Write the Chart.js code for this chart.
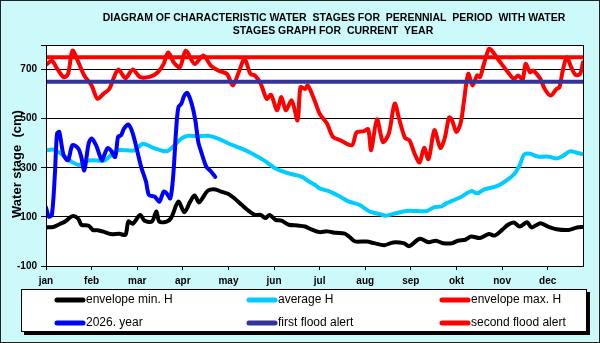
<!DOCTYPE html>
<html>
<head>
<meta charset="utf-8">
<script src="https://cdn.jsdelivr.net/npm/chart.js@4.4.1/dist/chart.umd.min.js"></script>
<style>
  html, body { margin: 0; padding: 0; background: #ccf9fa; }
  canvas { display: block; }
</style>
</head>
<body>
<canvas id="chart" width="600" height="343"></canvas>
<script>
// water stages - perennial envelopes + current year
const months = ['jan','feb','mar','apr','may','jun','jul','aug','sep','okt','nov','dec'];
const yTicks = [-100, 100, 300, 500, 700, 800];

const minDays = [0,5,9,13,18,22,24,29,32,35,39,44,50,54,56,59,64,67,72,75,77,82,85,90,94,98,101,104,107,110,115,119,124,128,133,137,142,146,149,152,156,160,165,171,176,180,186,191,197,203,206,210,218,223,230,236,243,247,254,260,265,270,276,280,285,289,295,301,305,310,314,318,322,327,330,336,341,347,355,361,365];
const minVals = [57,59,70,81,103,92,68,64,46,46,40,30,31,27,81,72,108,84,81,122,81,81,95,162,119,162,187,159,182,207,212,203,193,176,149,128,108,108,95,108,88,85,68,65,61,50,38,41,35,32,20,0,0,-7,-15,-4,-7,-19,11,-3,3,-7,-7,3,7,20,14,30,24,47,68,77,61,78,57,74,61,50,47,57,59];

const avgDays = [0,5,9,14,18,23,27,32,39,43,48,55,60,66,73,82,87,92,97,103,110,117,124,133,140,149,156,165,174,179,183,186,193,200,206,213,220,227,231,238,245,252,259,264,269,272,276,282,289,293,298,305,310,318,322,325,329,334,342,347,351,356,361,365];
const avgVals = [371,374,362,341,322,311,327,331,328,345,371,371,371,398,381,367,390,419,430,428,430,419,399,378,358,327,297,277,263,243,230,216,203,182,162,149,122,111,105,115,124,124,124,140,143,155,165,181,205,196,212,222,236,273,311,354,357,346,345,338,347,367,361,355];

const maxDays = [0,4,7,12,15,18,22,26,31,35,39,43,49,54,59,64,71,76,80,83,87,91,95,101,107,112,117,123,127,131,135,139,142,146,150,153,157,160,163,167,171,173,176,178,183,186,191,195,200,208,211,216,219,221,225,229,233,237,240,244,247,251,254,257,260,264,268,271,274,276,279,282,284,287,290,293,295,297,301,303,308,314,318,321,324,326,329,331,336,339,343,347,349,351,354,357,360,363,365];
const maxVals = [719,736,709,669,682,777,730,676,635,581,601,621,700,665,700,669,671,689,723,770,728,709,777,723,757,716,696,682,635,689,743,682,676,642,581,597,534,588,534,574,493,628,621,635,567,520,480,426,412,392,443,449,457,372,497,405,439,561,500,422,412,351,322,381,335,453,381,420,505,493,446,486,567,682,635,676,669,709,784,777,736,689,662,676,659,723,689,696,662,621,594,621,628,689,750,709,678,682,730];

const curDays = [0,2,4,6,7.5,9,12,15,18,22,24,26,29,31,34,38,40,42,44,47,49,51,53,56,59,63,65,68,70,74,77,80,82,84.5,86.5,88.5,90,92,94,96,99,101.5,103.5,105.5,109,112,115];
const curVals = [138,101,108,270,439,446,351,331,392,378,344,290,399,419,392,331,358,381,371,344,426,432,459,476,439,344,297,243,189,182,162,203,196,176,270,459,547,561,594,605,561,493,405,365,304,286,263];

const firstAlert = 650;
const secondAlert = 750;
const yearEnd = 365;

function pts(days, vals) { return days.map((d, i) => ({ x: d, y: vals[i] })); }

const FONT = 'Liberation Sans, Arial, sans-serif';

const frame = {
  id: 'frame',
  beforeDraw(chart) {
    const ctx = chart.ctx, a = chart.chartArea;
    ctx.save();
    ctx.fillStyle = '#ccf9fa';
    ctx.fillRect(0, 0, chart.width, chart.height);
    ctx.fillStyle = '#ffffff';
    ctx.fillRect(a.left, a.top, a.right - a.left, a.bottom - a.top);
    ctx.restore();
  },
  afterDraw(chart) {
    const ctx = chart.ctx, a = chart.chartArea;
    ctx.save();
    ctx.strokeStyle = '#000';
    ctx.lineWidth = 1;
    ctx.strokeRect(a.left + 0.5, a.top + 0.5, a.right - a.left, a.bottom - a.top);
    ctx.strokeStyle = '#222';
    ctx.strokeRect(0.5, 0.5, chart.width - 1, chart.height - 1);

    // title
    ctx.fillStyle = '#000';
    ctx.font = 'bold 10.5px ' + FONT;
    ctx.textAlign = 'center';
    ctx.textBaseline = 'middle';
    ctx.fillText('DIAGRAM OF CHARACTERISTIC WATER  STAGES FOR  PERENNIAL  PERIOD  WITH WATER', 334, 18);
    ctx.fillText('STAGES GRAPH FOR  CURRENT  YEAR', 333, 31);

    // y axis title
    ctx.save();
    ctx.translate(17, 164);
    ctx.rotate(-Math.PI / 2);
    ctx.font = 'bold 13px ' + FONT;
    ctx.fillText('Water stage  (cm)', 0, 0);
    ctx.restore();

    // legend box
    const bx = 21, by = 289, bw = 566, bh = 43;
    ctx.fillStyle = '#000';
    ctx.fillRect(bx + 3, by + 3, bw, bh);
    ctx.fillStyle = '#fff';
    ctx.fillRect(bx, by, bw, bh);
    ctx.strokeStyle = '#000';
    ctx.strokeRect(bx + 0.5, by + 0.5, bw - 1, bh - 1);
    const cols = [55, 247, 440], rows = [300, 323];
    ctx.font = '12px ' + FONT;
    ctx.textAlign = 'left';
    ctx.lineCap = 'round';
    chart.data.datasets.forEach((ds, i) => {
      const x0 = cols[i % 3], y0 = rows[Math.floor(i / 3)];
      ctx.strokeStyle = ds.borderColor;
      ctx.lineWidth = 5;
      ctx.beginPath();
      ctx.moveTo(x0 + 2, y0);
      ctx.lineTo(x0 + 28, y0);
      ctx.stroke();
      ctx.fillStyle = '#000';
      ctx.fillText(ds.label, x0 + 31, y0);
    });
    ctx.restore();
  }
};

const lineStyle = { borderWidth: 4, pointRadius: 0, fill: false, tension: 0.3, borderCapStyle: 'round', borderJoinStyle: 'round' };

new Chart(document.getElementById('chart'), {
  type: 'line',
  data: {
    datasets: [
      { label: 'envelope min. H', data: pts(minDays, minVals), borderColor: '#000000', order: 5, ...lineStyle },
      { label: 'average H', data: pts(avgDays, avgVals), borderColor: '#00ccff', order: 4, ...lineStyle },
      { label: 'envelope max. H', data: pts(maxDays, maxVals), borderColor: '#ff0000', order: 3, ...lineStyle },
      { label: '2026. year', data: pts(curDays, curVals), borderColor: '#0000ff', order: 2, ...lineStyle },
      { label: 'first flood alert', data: pts([0, yearEnd], [firstAlert, firstAlert]), borderColor: '#333399', order: 1, ...lineStyle, borderCapStyle: 'butt' },
      { label: 'second flood alert', data: pts([0, yearEnd], [secondAlert, secondAlert]), borderColor: '#ff0000', order: 0, ...lineStyle, borderCapStyle: 'butt' }
    ]
  },
  options: {
    responsive: false,
    animation: false,
    layout: { padding: { left: 0, right: 17, top: 45, bottom: 57 } },
    plugins: { legend: { display: false }, title: { display: false }, tooltip: { enabled: false } },
    scales: {
      x: {
        type: 'linear', min: 0, max: yearEnd,
        afterBuildTicks: axis => { axis.ticks = months.map((m, i) => ({ value: i * 31 })); },
        afterFit: scale => { scale.height = 20; },
        ticks: { callback: (v, i) => months[i], color: '#000', font: { family: FONT, size: 10, weight: 'bold' }, padding: 5, maxRotation: 0, autoSkip: false },
        grid: { drawOnChartArea: false, drawTicks: true, tickLength: 4, color: '#000' },
        border: { display: true, color: '#000' }
      },
      y: {
        min: -100, max: 800,
        afterBuildTicks: axis => { axis.ticks = yTicks.map(v => ({ value: v })); },
        afterFit: scale => { scale.width = 46; },
        ticks: { callback: v => (v === 800 ? '' : v), color: '#000', font: { family: FONT, size: 10, weight: 'bold' }, padding: 4 },
        grid: { color: '#000', lineWidth: 1, tickLength: 5 },
        border: { display: true, color: '#000' }
      }
    }
  },
  plugins: [frame]
});
</script>
</body>
</html>
